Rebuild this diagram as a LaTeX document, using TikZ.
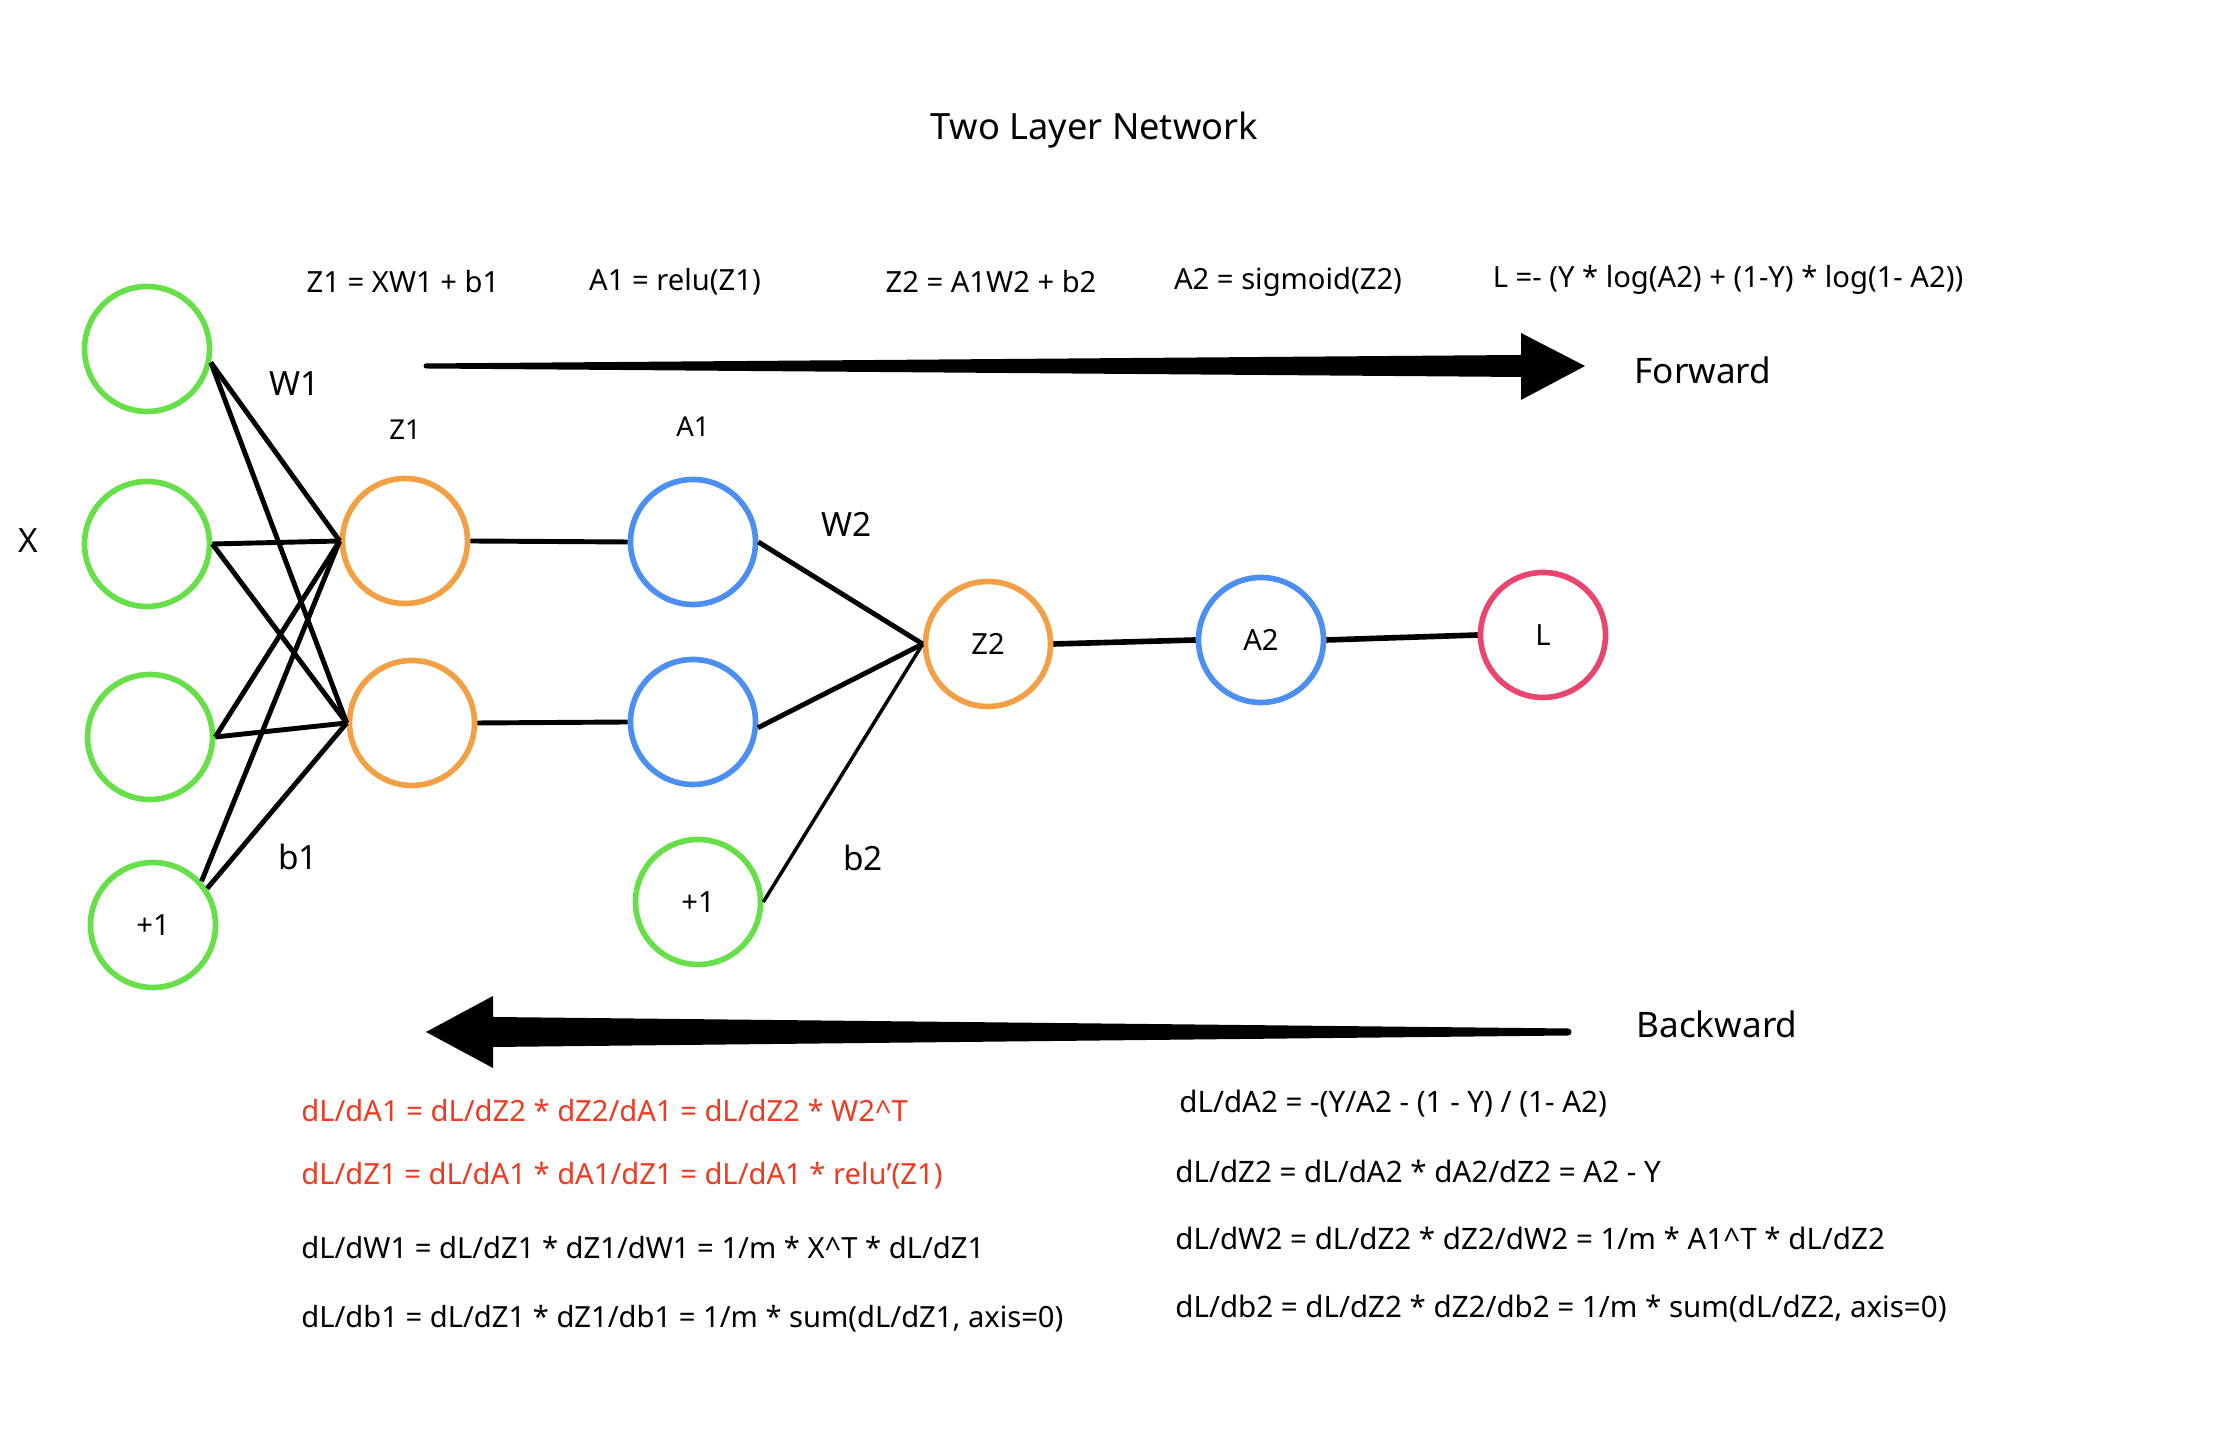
\documentclass[tikz,border=0pt]{standalone}
\usepackage{fontspec}
\setmainfont{Noto Sans}
\usetikzlibrary{positioning}
\usetikzlibrary{calc}

\definecolor{ingreen}{HTML}{66DF48}
\definecolor{hidorange}{HTML}{F2A043}
\definecolor{actblue}{HTML}{4B8FF0}
\definecolor{losspink}{HTML}{E8466E}
\definecolor{gradred}{HTML}{EE3A20}

\begin{document}
\begin{tikzpicture}[
    neuron/.style={circle, draw, line width=1.6pt, minimum size=1.25cm, inner sep=0pt, font=\fontsize{8.3}{10}\selectfont},
    link/.style={line width=1.4pt},
    eqn/.style={font=\fontsize{8.3}{10}\selectfont},
    grad/.style={font=\fontsize{8.3}{10}\selectfont, anchor=west},
    tag/.style={font=\fontsize{9.5}{11}\selectfont}
]
    \useasboundingbox (0,0) rectangle (22.14,14.32);

    \node[font=\fontsize{10.3}{12}\selectfont] (title) at (10.94, 13.02) {Two Layer Network};

    % Forward formulas
    \node[eqn] (fz1) at (4.03, 11.50) {Z1 = XW1 + b1};
    \node[eqn] (fa1) at (6.75, 11.50) {A1 = relu(Z1)};
    \node[eqn] (fz2) at (9.91, 11.50) {Z2 = A1W2 + b2};
    \node[eqn] (fa2) at (12.88, 11.50) {A2 = sigmoid(Z2)};
    \node[eqn] (floss) at (17.28, 11.52) {L =- (Y * log(A2) + (1-Y) * log(1- A2))};

    % Forward arrow
    \coordinate (fs) at (4.26, 10.66);
    \coordinate (fe) at (15.85, 10.66);
    \fill[line join=round] ($(fs)+(0, 0.025)$) -- ($(fs)+(10.95, 0.11)$) -- ($(fs)+(10.95, 0.33)$) -- (fe)
        -- ($(fs)+(10.95,-0.34)$) -- ($(fs)+(10.95,-0.11)$) -- ($(fs)+(0,-0.025)$) -- cycle;
    \fill (fs) circle (0.025);
    \node[font=\fontsize{10}{12}\selectfont] (fwd) at (17.03, 10.62) {Forward};

    % Input layer
    \node[neuron, draw=ingreen] (x1) at (1.47, 10.83) {};
    \node[neuron, draw=ingreen] (x2) at (1.47, 8.88) {};
    \node[neuron, draw=ingreen] (x3) at (1.50, 6.95) {};
    \node[neuron, draw=ingreen] (bias1) at (1.53, 5.07) {+1};
    \node[tag] (lx) at (0.28, 8.91) {X};

    % Hidden layer
    \node[neuron, draw=hidorange] (z11) at (4.05, 8.91) {};
    \node[neuron, draw=hidorange] (z12) at (4.12, 7.09) {};
    \node[neuron, draw=actblue] (a11) at (6.93, 8.90) {};
    \node[neuron, draw=actblue] (a12) at (6.93, 7.10) {};
    \node[neuron, draw=ingreen] (bias2) at (6.98, 5.30) {+1};
    \node[font=\fontsize{7.8}{9}\selectfont] (lz1) [above=0.24cm of z11] {Z1};
    \node[font=\fontsize{7.8}{9}\selectfont] (la1) [above=0.28cm of a11] {A1};

    % Output layer
    \node[neuron, draw=hidorange] (z2) at (9.88, 7.88) {Z2};
    \node[neuron, draw=actblue] (a2) at (12.61, 7.92) {A2};
    \node[neuron, draw=losspink] (loss) at (15.43, 7.97) {L};

    % Weights
    \node[tag] (lw1) at (2.95, 10.48) {W1};
    \node[tag] (lb1) at (2.98, 5.75) {b1};
    \node[tag] (lw2) at (8.47, 9.08) {W2};
    \node[tag] (lb2) at (8.63, 5.74) {b2};

    \draw[link] (x1.-12) -- (z11.west);
    \draw[link] (x1.-12) -- (z12.west);
    \draw[link] (x2.east) -- (z11.west);
    \draw[link] (x2.east) -- (z12.west);
    \draw[link] (x3.east) -- (z11.west);
    \draw[link] (x3.east) -- (z12.west);
    \draw[link] (bias1.42) -- (z11.west);
    \draw[link] (bias1.34) -- (z12.west);

    \draw[link] (z11.east) -- (a11.west);
    \draw[link] (z12.east) -- (a12.west);

    \draw[link] (a11.east) -- (z2.west);
    \draw[link] (a12.-5) -- (z2.west);
    \draw[line width=1pt] (bias2.east) -- (z2.west);

    \draw[link, line width=1.6pt] (z2.east) -- (a2.west);
    \draw[link, line width=1.6pt] (a2.east) -- (loss.west);

    % Backward arrow
    \coordinate (bs) at (15.68, 4.00);
    \coordinate (be) at (4.26, 4.00);
    \fill[line join=round] ($(bs)+(0, 0.035)$) -- ($(bs)+(-10.75, 0.15)$) -- ($(bs)+(-10.75, 0.36)$) -- (be)
        -- ($(bs)+(-10.75,-0.36)$) -- ($(bs)+(-10.75,-0.15)$) -- ($(bs)+(0,-0.035)$) -- cycle;
    \fill (bs) circle (0.035);
    \node[font=\fontsize{10}{12}\selectfont] (bwd) at (17.17, 4.08) {Backward};

    % Gradients, first layer
    \node[grad, text=gradred] (gda1) at (2.89, 3.21) {dL/dA1 = dL/dZ2 * dZ2/dA1 = dL/dZ2 * W2\textasciicircum T};
    \node[grad, text=gradred] (gdz1) at (2.89, 2.56) {dL/dZ1 = dL/dA1 * dA1/dZ1 = dL/dA1 * relu'(Z1)};
    \node[grad] (gdw1) at (2.89, 1.84) {dL/dW1 = dL/dZ1 * dZ1/dW1 = 1/m * X\textasciicircum T * dL/dZ1};
    \node[grad] (gdb1) at (2.89, 1.13) {dL/db1 = dL/dZ1 * dZ1/db1 = 1/m * sum(dL/dZ1, axis=0)};

    % Gradients, second layer
    \node[grad, font=\fontsize{8.4}{10}\selectfont] (gda2) at (11.67, 3.28) {dL/dA2 = -(Y/A2 - (1 - Y) / (1- A2)};
    \node[grad, font=\fontsize{8.4}{10}\selectfont] (gdz2) at (11.63, 2.61) {dL/dZ2 = dL/dA2 * dA2/dZ2 = A2 - Y};
    \node[grad, font=\fontsize{8.4}{10}\selectfont] (gdw2) at (11.63, 1.94) {dL/dW2 = dL/dZ2 * dZ2/dW2 = 1/m * A1\textasciicircum T * dL/dZ2};
    \node[grad, font=\fontsize{8.4}{10}\selectfont] (gdb2) at (11.63, 1.23) {dL/db2 = dL/dZ2 * dZ2/db2 = 1/m * sum(dL/dZ2, axis=0)};
\end{tikzpicture}
\end{document}
